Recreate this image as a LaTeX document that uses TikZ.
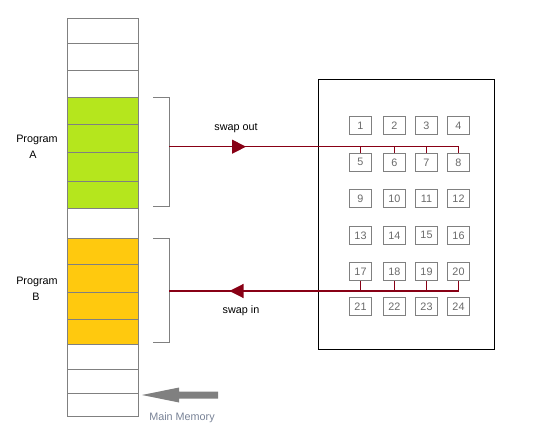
\documentclass[tikz,border=0pt]{standalone}
\usepackage{fontspec}
\setmainfont{Liberation Sans}
\usetikzlibrary{arrows.meta,decorations.markings}
\definecolor{cellgray}{RGB}{128,128,128}
\definecolor{progA}{RGB}{181,230,29}
\definecolor{progB}{RGB}{255,201,14}
\definecolor{busred}{RGB}{136,0,21}
\definecolor{numgray}{RGB}{105,105,105}
\definecolor{mmtext}{RGB}{120,130,150}
\begin{document}
\begin{tikzpicture}[x=1pt,y=-1pt,
  font=\fontsize{10.8}{13}\selectfont,
  cell/.style={draw=cellgray, line width=1pt, inner sep=0pt, minimum width=71pt, anchor=north west},
  pbox/.style={draw=cellgray, line width=1pt, inner sep=0pt, minimum width=22pt, minimum height=18pt, text=numgray},
  bracket/.style={draw=cellgray, line width=1pt},
  bus/.style={draw=busred, line width=1.1pt},
  midarrow/.style={postaction={decorate,decoration={markings,mark=at position #1 with {\arrow[busred]{Triangle[length=14pt,width=14pt]}}}}},
  lbl/.style={inner sep=0pt, text=black}]
\useasboundingbox (0,0) rectangle (550,434);

% main memory cells
\foreach \i/\a/\b/\c in {1/18.3/43.3/white, 2/43.3/70.3/white, 3/70.3/97.3/white,
  4/97.3/124.3/progA, 5/124.3/152.3/progA, 6/152.3/181.3/progA, 7/181.3/208.3/progA,
  8/208.3/238.3/white,
  9/238.3/264.3/progB, 10/264.3/292.3/progB, 11/292.3/319.3/progB, 12/319.3/344.3/progB,
  13/344.3/369.3/white, 14/369.3/393.3/white, 15/393.3/416/white}
  \node[cell, fill=\c, minimum height={(\b-\a)*1pt}] (m\i) at (67.3,\a) {};

% labels for programs
\node[lbl] (pa) at (37,140) {Program};
\node[lbl] (pa2) at (33,155) {A};
\node[lbl] (pb) at (37,282) {Program};
\node[lbl] (pb2) at (36,296.5) {B};

% brackets
\draw[bracket] (153,97.3) -- (169,97.3) -- (169,206.3) -- (153,206.3);
\draw[bracket] (153,238.3) -- (169,238.3) -- (169,342.3) -- (153,342.3);
\coordinate (aout) at (169,146.7);
\coordinate (bin) at (169,291);

% disk
\node[draw=black, line width=1pt, minimum width=176pt, minimum height=270pt, inner sep=0pt, anchor=north west] (disk) at (318.3,79.3) {};

% pages
\foreach \n [count=\k from 0] in {1,...,24}{
  \pgfmathtruncatemacro{\r}{int(\k/4)}
  \pgfmathtruncatemacro{\c}{mod(\k,4)}
  \pgfmathsetmacro{\px}{{360.5,394.5,426.5,458.5}[\c]}
  \pgfmathsetmacro{\py}{{125.3,162.3,198.3,235.3,271.3,306.3}[\r]}
  \node[pbox] (b\n) at (\px,\py) {\n};
}

% swap out
\draw[bus, midarrow=77pt] (aout) -- (b8.north |- aout);
\foreach \n in {5,6,7,8}
  \draw[bus] (b\n.north |- aout) -- (b\n.north);
\node[lbl] (so) at (236,128) {swap out};

% swap in
\foreach \n in {17,18,19,20}
  \draw[bus] (b\n.south) -- (b\n.south |- bin);
\draw[bus, midarrow=229pt] (b20.south |- bin) -- (bin);
\node[lbl] (si) at (241,311) {swap in};

% main memory pointer
\coordinate (mmtip) at (142,395);
\fill[cellgray] (mmtip) -- (179,387.5) -- (179,391.5) -- (218,391.5) -- (218,398.5) -- (179,398.5) -- (179,402.5) -- cycle;
\node[lbl, text=mmtext] (mm) at (182,418) {Main Memory};
\end{tikzpicture}
\end{document}
